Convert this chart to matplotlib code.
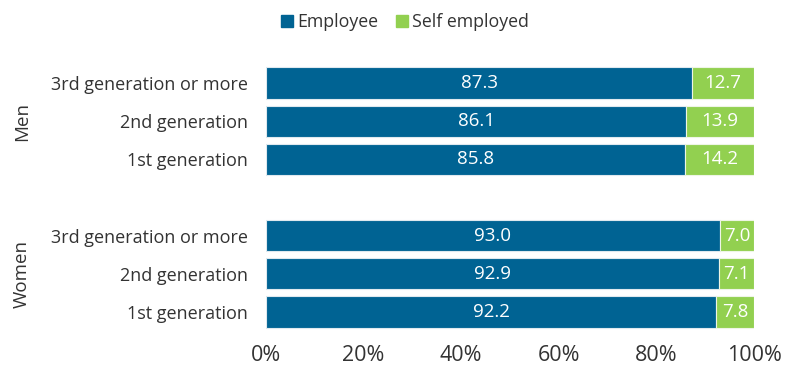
import matplotlib
matplotlib.use("Agg")
import matplotlib.pyplot as plt
from matplotlib.patches import Patch

plt.rcParams["font.family"] = ["Open Sans", "DejaVu Sans"]

groups = ["Men", "Women"]
generations = ["3rd generation or more", "2nd generation", "1st generation"]
employee = {"Men": [87.3, 86.1, 85.8], "Women": [93.0, 92.9, 92.2]}
self_employed = {"Men": [12.7, 13.9, 14.2], "Women": [7.0, 7.1, 7.8]}
x_ticks = [0, 20, 40, 60, 80, 100]

BLUE = "#006393"
GREEN = "#92d050"
TEXT = "#333333"

fig = plt.figure(figsize=(7.88, 3.69), dpi=100)
ax = fig.add_axes([0.3376, 0.103, 0.6193, 0.7236])

# Women at the bottom, one empty slot between the groups
ypos = {"Men": [6, 5, 4], "Women": [2, 1, 0]}
h = 0.82
for g in groups:
    ys = ypos[g]
    emp = employee[g]
    se = self_employed[g]
    ax.barh(ys, emp, height=h, color=BLUE, edgecolor="#dfe9ef", linewidth=0.8)
    ax.barh(ys, se, left=emp, height=h, color=GREEN, edgecolor="#eef5e6", linewidth=0.8)
    for y, e, s in zip(ys, emp, se):
        ax.text(e / 2, y, f"{e:.1f}", ha="center", va="center", color="white", fontsize=13.5)
        ax.text(e + s / 2, y, f"{s:.1f}", ha="center", va="center", color="white", fontsize=13.5)
    mid = sum(ys) / len(ys)
    ax.text(-0.5, mid, g, transform=ax.get_yaxis_transform(), rotation=90,
            ha="center", va="center", fontsize=13.5, color=TEXT)

ax.set_yticks(ypos["Men"] + ypos["Women"])
ax.set_yticklabels(generations + generations, fontsize=13, color=TEXT)
ax.set_xticks(x_ticks)
ax.set_xticklabels([f"{t}%" for t in x_ticks], fontsize=15.5, color=TEXT)
ax.set_xlim(0, 100)
ax.set_ylim(-0.5, 6.5)
ax.tick_params(length=0, axis="y", pad=13)
ax.tick_params(length=0, axis="x", pad=10)
for sp in ax.spines.values():
    sp.set_visible(False)

handles = [Patch(color=BLUE, label="Employee"), Patch(color=GREEN, label="Self employed")]
fig.legend(handles=handles, loc="center", bbox_to_anchor=(0.514, 0.94), ncol=2, frameon=False,
           fontsize=12.8, handlelength=0.65, handleheight=0.65, handletextpad=0.25,
           columnspacing=1.0, labelcolor=TEXT)

fig.savefig("out.png", dpi=100)
